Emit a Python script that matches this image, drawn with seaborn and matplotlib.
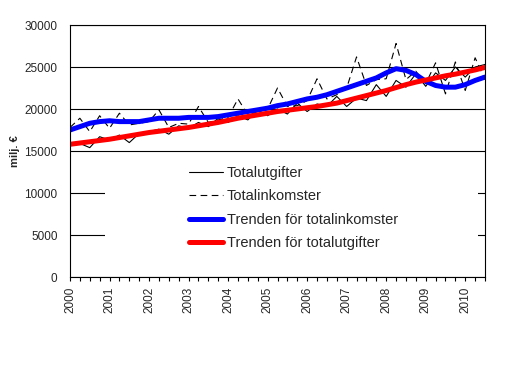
import matplotlib
matplotlib.use("Agg")
import pandas as pd
import seaborn as sns
import matplotlib.pyplot as plt
from matplotlib.patches import Rectangle


years=list(range(2000,2011))
quarters=[y+q/4 for y in years for q in range(4)][:43]

# kvartalsvärden, milj. euro
totalutgifter=[15800,15900,15400,16700,
               16300,16900,16000,17100,
               17300,17600,17000,18000,
               17700,18400,17900,18900,
               18400,19200,18700,19900,
               19200,20000,19400,20700,
               19700,20600,20300,21500,
               20300,21300,21000,22900,
               21500,23400,22600,24200,
               22700,24300,23400,25000,
               23800,25000,25300]

totalinkomster=[17800,18900,17300,19200,
                17700,19500,18100,18300,
                18500,19900,17800,18300,
                18200,20300,18400,18700,
                19000,21200,19300,19700,
                20000,22500,20300,20400,
                21000,23600,21200,21700,
                22500,26200,22800,23500,
                23600,27800,23500,24500,
                23000,25500,21800,25600,
                22200,26100,23500]

trend_inkomster=[17500,17900,18300,18500,
                 18600,18500,18500,18500,
                 18700,18900,18900,18900,
                 19000,19000,19000,19100,
                 19300,19500,19700,19900,
                 20100,20400,20600,20900,
                 21200,21400,21700,22100,
                 22500,22900,23300,23700,
                 24300,24800,24600,24100,
                 23300,22800,22600,22600,
                 22900,23400,23800]

trend_utgifter=[15800,15950,16100,16250,
                16400,16600,16800,17000,
                17200,17350,17500,17650,
                17800,18000,18200,18400,
                18650,18900,19100,19300,
                19500,19700,19850,20000,
                20150,20300,20500,20700,
                21000,21300,21600,21900,
                22200,22550,22900,23200,
                23450,23700,23950,24150,
                24400,24650,24950]

labels=["Totalutgifter","Totalinkomster","Trenden för totalinkomster","Trenden för totalutgifter"]


def main():
    sns.set_theme(style="white")
    plt.rcParams["font.family"]=["Liberation Sans","DejaVu Sans"]

    df=pd.DataFrame({
        "kvartal":quarters,
        labels[0]:totalutgifter,
        labels[1]:totalinkomster,
        labels[2]:trend_inkomster,
        labels[3]:trend_utgifter,
    })

    fig=plt.figure(figsize=(5.17,3.73),dpi=100)
    ax=fig.add_axes([70/517,1-277/373,415/517,252/373])

    sns.lineplot(data=df,x="kvartal",y=labels[0],ax=ax,color="black",linewidth=0.8,label=labels[0])
    sns.lineplot(data=df,x="kvartal",y=labels[1],ax=ax,color="black",linewidth=0.8,label=labels[1])
    ax.lines[-1].set_dashes((6,4))
    sns.lineplot(data=df,x="kvartal",y=labels[2],ax=ax,color="#0000ff",linewidth=3.6,label=labels[2])
    sns.lineplot(data=df,x="kvartal",y=labels[3],ax=ax,color="#ff0000",linewidth=3.6,label=labels[3])

    ax.set_xlim(2000,2010.5)
    ax.set_ylim(0,30000)
    ax.set_yticks(range(0,30001,5000))
    ax.set_xticks(years)
    ax.set_xticks(quarters,minor=True)
    ax.set_xticklabels([str(y) for y in years],rotation=90,fontsize=8.5)
    ax.tick_params(axis="y",labelsize=8.5,length=0,pad=9)
    ax.tick_params(axis="x",which="both",bottom=True,length=3,width=0.8,color="black",pad=4)

    ax.set_axisbelow(True)
    ax.grid(axis="y",color="black",linewidth=0.8)
    ax.grid(axis="x",visible=False)
    for s in ax.spines.values():
        s.set_color("black")
        s.set_linewidth(0.8)

    ax.set_xlabel("")
    ax.set_ylabel("milj. €",fontsize=8,fontweight="bold")
    ax.yaxis.set_label_coords(-50/415,0.5)

    # vit bakgrund för förklaringen
    ax.add_patch(Rectangle((35/415,8/252),373/415,114/252,transform=ax.transAxes,
                           facecolor="white",edgecolor="none",zorder=1))

    leg=ax.legend(loc="upper left",bbox_to_anchor=(119/415,111/252),frameon=False,
                  fontsize=10.5,handlelength=2.3,handletextpad=0.3,labelspacing=0.64,
                  borderpad=0,borderaxespad=0)
    leg.set_zorder(3)

    fig.savefig("out.png",dpi=100)
    plt.close(fig)


if __name__=="__main__":
    main()
